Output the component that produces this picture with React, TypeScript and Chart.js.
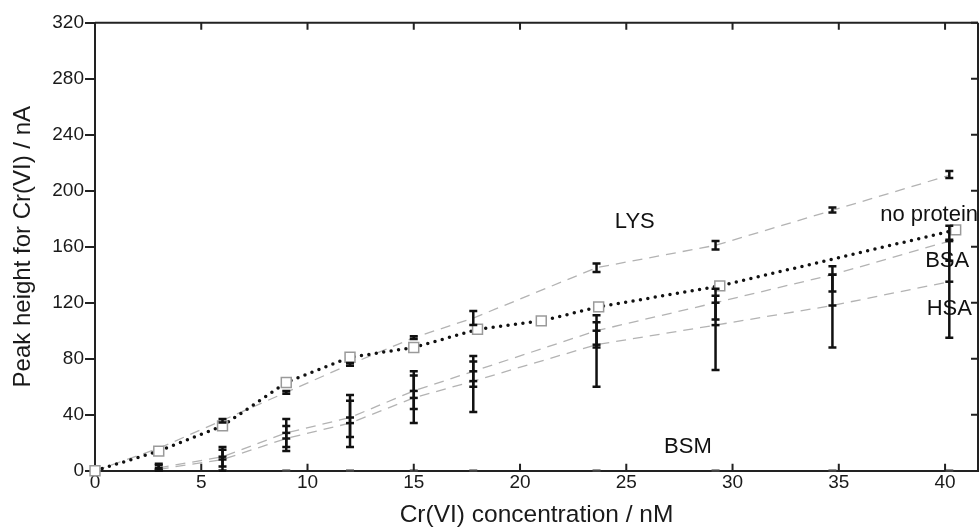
import React, { useEffect, useRef } from "react";
import { Chart, registerables } from "chart.js";
Chart.register(...registerables);

// ---- tick labels ----
const xTicks = [0, 5, 10, 15, 20, 25, 30, 35, 40];
const yTicks = [0, 40, 80, 120, 160, 200, 240, 280, 320];

// ---- no protein ----
const noProteinX = [0, 3, 6, 9, 12, 15, 18, 21, 23.7, 29.4, 40.5];
const noProteinY = [0, 14, 32, 63, 81, 88, 101, 107, 117, 132, 172];

// ---- LYS ----
const lysX = [0, 3, 6, 9, 12, 15, 17.8, 23.6, 29.2, 34.7, 40.2];
const lysY = [0, 16, 36, 56, 76, 95, 109, 145, 161, 186, 211];
const lysLow = [0, 16, 34.5, 55, 75, 94, 104, 142, 158, 184.5, 209];
const lysHigh = [0, 16, 37, 57, 77, 96, 114, 148, 164, 188, 214];

// ---- BSA / HSA / BSM ----
const proteinX = [3, 6, 9, 12, 15, 17.8, 23.6, 29.2, 34.7, 40.2];
const bsaY = [2, 10, 27, 38, 57, 71, 100, 120, 140, 164];
const bsaLow = [0, 3, 17, 24, 44, 60, 88, 108, 128, 150];
const bsaHigh = [5, 17, 37, 54, 71, 82, 111, 130, 146, 175];
const hsaY = [1, 8, 23, 34, 52, 64, 90, 104, 118, 135];
const hsaLow = [0, 0, 14, 17, 34, 42, 60, 72, 88, 95];
const hsaHigh = [4, 15, 32, 50, 68, 78, 106, 125, 140, 165];
const bsmY = [0, 0, 0, 0, 0, 0, 0, 0, 0, 0];

// ---- in-plot labels ----
const labelTexts = ["LYS", "no protein", "BSA", "HSA", "BSM"];
const labelX = [25.4, 36.95, 40.1, 40.2, 27.9];
const labelY = [178, 182.5, 150, 115.7, 16.8];
const labelAlign: CanvasTextAlign[] = ["center", "left", "center", "center", "center"];

const FONT = "'Liberation Sans', Arial, Helvetica, sans-serif";
const AXIS = "#222";

const pts = (xs: number[], ys: number[]) => xs.map((x, i) => ({ x, y: ys[i] }));

const errorSets = [
  { xs: lysX, lo: lysLow, hi: lysHigh },
  { xs: proteinX, lo: bsaLow, hi: bsaHigh },
  { xs: proteinX, lo: hsaLow, hi: hsaHigh },
];

const decorPlugin = {
  id: "decor",
  afterDatasetsDraw(chart: any) {
    const { ctx, scales } = chart;
    const x = scales.x, y = scales.y;
    ctx.save();
    ctx.strokeStyle = "#111";
    ctx.lineWidth = 2.5;
    ctx.lineCap = "butt";
    const cap = 4;
    errorSets.forEach((s) => {
      s.xs.forEach((xv, i) => {
        if (s.hi[i] === s.lo[i]) return;
        const px = x.getPixelForValue(xv);
        const p1 = y.getPixelForValue(s.lo[i]);
        const p2 = y.getPixelForValue(s.hi[i]);
        ctx.beginPath();
        ctx.moveTo(px, p1);
        ctx.lineTo(px, p2);
        ctx.moveTo(px - cap, p1);
        ctx.lineTo(px + cap, p1);
        ctx.moveTo(px - cap, p2);
        ctx.lineTo(px + cap, p2);
        ctx.stroke();
      });
    });
    ctx.restore();
  },
  afterDraw(chart: any) {
    const { ctx, chartArea: a, scales } = chart;
    const x = scales.x, y = scales.y;
    ctx.save();
    ctx.strokeStyle = AXIS;
    ctx.lineWidth = 2;
    ctx.beginPath();
    ctx.moveTo(a.left, a.top);
    ctx.lineTo(a.right, a.top);
    ctx.moveTo(a.right, a.top);
    ctx.lineTo(a.right, a.bottom);
    ctx.stroke();
    ctx.beginPath();
    xTicks.forEach((v) => {
      if (v === 0) return;
      const px = x.getPixelForValue(v);
      ctx.moveTo(px, a.bottom);
      ctx.lineTo(px, a.bottom - 7);
      ctx.moveTo(px, a.top);
      ctx.lineTo(px, a.top + 7);
    });
    yTicks.forEach((v) => {
      if (v === 0) return;
      const py = y.getPixelForValue(v);
      ctx.moveTo(a.right, py);
      ctx.lineTo(a.right - 7, py);
    });
    ctx.stroke();
    ctx.fillStyle = "#111";
    ctx.font = `22px ${FONT}`;
    ctx.textBaseline = "middle";
    labelTexts.forEach((t, i) => {
      ctx.textAlign = labelAlign[i];
      ctx.fillText(t, x.getPixelForValue(labelX[i]), y.getPixelForValue(labelY[i]));
    });
    ctx.restore();
  },
};

export default function App() {
  const ref = useRef<HTMLCanvasElement>(null);
  useEffect(() => {
    if (!ref.current) return;
    const gray = "#b3b3b3";
    const dashed = {
      borderColor: gray,
      borderWidth: 1.3,
      borderDash: [10, 7],
      fill: false,
      tension: 0,
    };
    const chart = new Chart(ref.current, {
      type: "scatter",
      data: {
        datasets: [
          {
            label: "no protein",
            data: pts(noProteinX, noProteinY),
            showLine: true,
            borderColor: "#111",
            borderWidth: 3.5,
            borderDash: [0, 7.5],
            borderCapStyle: "round",
            pointStyle: "rect",
            pointRadius: 7,
            pointBorderColor: "#9a9a9a",
            pointBackgroundColor: "#fff",
            pointBorderWidth: 1.5,
            order: 0,
          },
          {
            label: "LYS",
            data: pts(lysX, lysY),
            showLine: true,
            ...dashed,
            pointRadius: 0,
            order: 4,
          },
          {
            label: "BSA",
            data: pts(proteinX, bsaY),
            showLine: true,
            ...dashed,
            pointStyle: "line",
            pointRadius: 4,
            pointBorderColor: "#111",
            pointBorderWidth: 2.5,
            order: 3,
          },
          {
            label: "HSA",
            data: pts(proteinX, hsaY),
            showLine: true,
            ...dashed,
            pointStyle: "line",
            pointRadius: 4,
            pointBorderColor: "#111",
            pointBorderWidth: 2.5,
            order: 2,
          },
          {
            label: "BSM",
            data: pts(proteinX, bsmY),
            showLine: false,
            pointStyle: "line",
            pointRadius: 4,
            pointBorderColor: "#444",
            pointBorderWidth: 2.5,
            order: 1,
          },
        ],
      },
      options: {
        animation: false,
        responsive: false,
        clip: false,
        layout: { autoPadding: false, padding: { left: 0, top: 22.7, right: 1, bottom: 0 } },
        plugins: { legend: { display: false }, tooltip: { enabled: false } },
        scales: {
          x: {
            type: "linear",
            min: 0,
            max: 41.55,
            afterBuildTicks: (s: any) => {
              s.ticks = xTicks.map((v) => ({ value: v }));
            },
            afterFit: (s: any) => {
              s.height = 59.3;
              s.paddingLeft = 0;
              s.paddingRight = 0;
            },
            grid: { display: false, drawTicks: false },
            border: { display: true, color: AXIS, width: 2 },
            ticks: {
              padding: 1,
              color: "#1a1a1a",
              font: { family: FONT, size: 19 },
              maxRotation: 0,
              callback: (v: any) => String(v),
            },
            title: {
              display: true,
              text: "Cr(VI) concentration / nM",
              color: "#1a1a1a",
              font: { family: FONT, size: 24.5 },
              padding: { top: 0, bottom: 0 },
            },
          },
          y: {
            type: "linear",
            min: 0,
            max: 320,
            afterBuildTicks: (s: any) => {
              s.ticks = yTicks.map((v) => ({ value: v }));
            },
            afterFit: (s: any) => {
              s.width = 95;
            },
            grid: {
              display: true,
              drawOnChartArea: false,
              drawTicks: true,
              tickLength: 10,
              color: AXIS,
              lineWidth: 2,
            },
            border: { display: true, color: AXIS, width: 2 },
            ticks: {
              padding: 1,
              color: "#1a1a1a",
              font: { family: FONT, size: 19 },
              callback: (v: any) => String(v),
            },
            title: {
              display: true,
              text: "Peak height for Cr(VI) / nA",
              color: "#1a1a1a",
              font: { family: FONT, size: 24 },
              padding: { top: 9, bottom: 0 },
            },
          },
        },
      },
      plugins: [decorPlugin],
    } as any);
    return () => chart.destroy();
  }, []);
  return (
    <div style={{ position: "absolute", left: 0, top: 0, width: 979, height: 530, background: "#fff" }}>
      <canvas ref={ref} width={979} height={530} style={{ display: "block" }} />
    </div>
  );
}
